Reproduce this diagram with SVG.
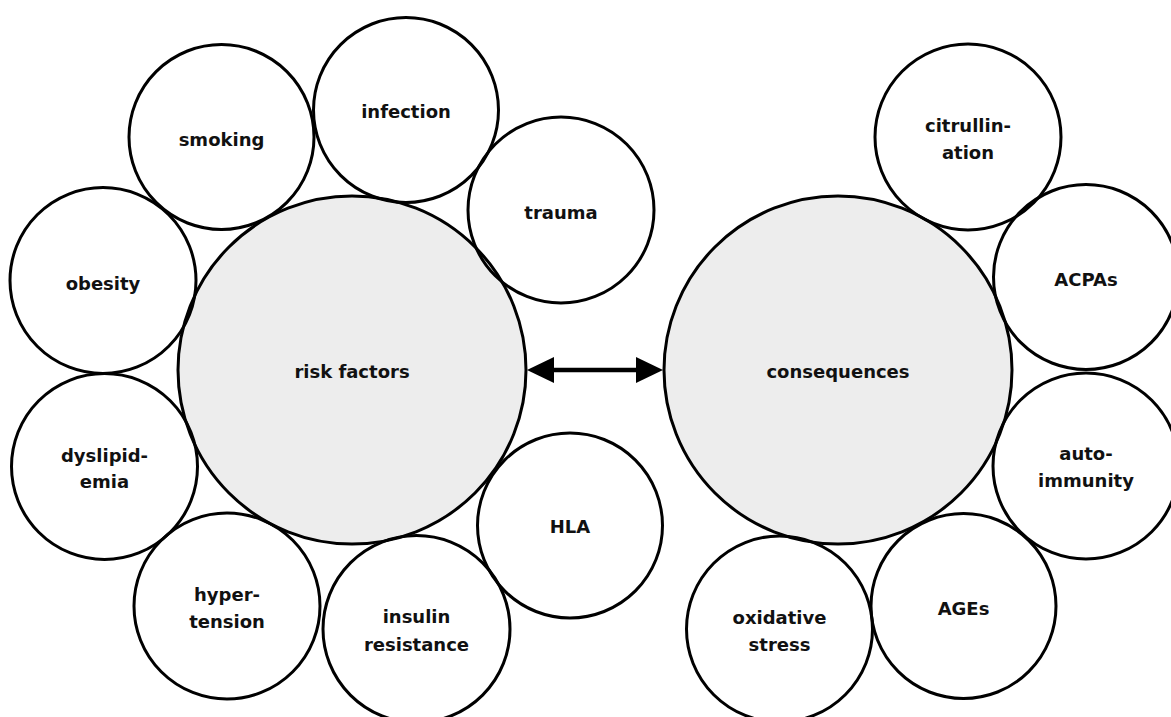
<svg xmlns="http://www.w3.org/2000/svg" width="1171" height="717" viewBox="0 0 1171 717">
  <style>
    .hub { fill: #ededed; stroke: #000; stroke-width: 3; }
    .item { fill: none; stroke: #000; stroke-width: 3; }
    text { font-family: "DejaVu Sans", Verdana, sans-serif; font-weight: bold; font-size: 18px; fill: #111; text-anchor: middle; }
    .link { stroke: #000; stroke-width: 4.5; fill: none; }
  </style>
  <defs>
    <marker id="head" markerUnits="userSpaceOnUse" markerWidth="27" markerHeight="26" refX="14" refY="13" orient="auto-start-reverse">
      <path d="M0,0 L27,13 L0,26 Z" fill="#000"/>
    </marker>
  </defs>
  <rect width="1171" height="717" fill="#fff"/>

  <!-- hubs -->
  <g id="risk-factors">
    <circle class="hub" cx="352" cy="370" r="174"/>
    <text x="352" y="378">risk factors</text>
  </g>
  <g id="consequences">
    <circle class="hub" cx="838" cy="370" r="174"/>
    <text x="838" y="378">consequences</text>
  </g>

  <!-- risk factor satellites -->
  <g id="smoking">
    <circle class="item" cx="221.5" cy="137" r="92.5"/>
    <text x="221.5" y="146">smoking</text>
  </g>
  <g id="infection">
    <circle class="item" cx="406" cy="110" r="92.5"/>
    <text x="406" y="118">infection</text>
  </g>
  <g id="trauma">
    <circle class="item" cx="561" cy="210" r="93"/>
    <text x="561" y="219">trauma</text>
  </g>
  <g id="obesity">
    <circle class="item" cx="103" cy="280.5" r="93"/>
    <text x="103" y="290">obesity</text>
  </g>
  <g id="dyslipidemia">
    <circle class="item" cx="104.5" cy="466.5" r="93"/>
    <text x="104.5" y="462">dyslipid-</text>
    <text x="104.5" y="488">emia</text>
  </g>
  <g id="hypertension">
    <circle class="item" cx="227" cy="606" r="93"/>
    <text x="227" y="601">hyper-</text>
    <text x="227" y="628">tension</text>
  </g>
  <g id="insulin-resistance">
    <circle class="item" cx="416.5" cy="629" r="93.5"/>
    <text x="416.5" y="623">insulin</text>
    <text x="416.5" y="651">resistance</text>
  </g>
  <g id="hla">
    <circle class="item" cx="570" cy="525.5" r="92.5"/>
    <text x="570" y="533">HLA</text>
  </g>

  <!-- consequence satellites -->
  <g id="citrullination">
    <circle class="item" cx="968" cy="137" r="93"/>
    <text x="968" y="132">citrullin-</text>
    <text x="968" y="159">ation</text>
  </g>
  <g id="acpas">
    <circle class="item" cx="1086" cy="277" r="92.5"/>
    <text x="1086" y="286">ACPAs</text>
  </g>
  <g id="autoimmunity">
    <circle class="item" cx="1086" cy="466" r="93"/>
    <text x="1086" y="460">auto-</text>
    <text x="1086" y="487">immunity</text>
  </g>
  <g id="ages">
    <circle class="item" cx="963.5" cy="606" r="92.5"/>
    <text x="963.5" y="615">AGEs</text>
  </g>
  <g id="oxidative-stress">
    <circle class="item" cx="779.5" cy="629" r="93"/>
    <text x="779.5" y="624">oxidative</text>
    <text x="779.5" y="651">stress</text>
  </g>

  <!-- connectors -->
  <g id="connectors">
    <line class="link" x1="540" y1="370" x2="650" y2="370" marker-start="url(#head)" marker-end="url(#head)"/>
  </g>
</svg>
